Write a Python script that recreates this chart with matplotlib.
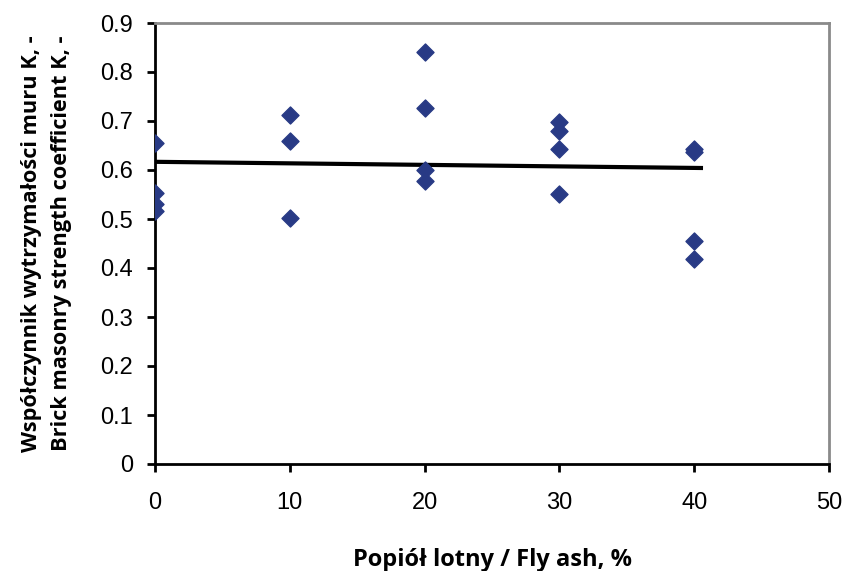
import matplotlib
matplotlib.use('Agg')
import matplotlib.pyplot as plt
import numpy as np

# Dane
popiol = [0, 0, 0, 0, 10, 10, 10, 20, 20, 20, 20, 30, 30, 30, 30, 40, 40, 40, 40]
wsp_k = [0.656, 0.553, 0.530, 0.517,
         0.712, 0.660, 0.502,
         0.841, 0.726, 0.599, 0.578,
         0.697, 0.679, 0.642, 0.551,
         0.642, 0.636, 0.456, 0.419]

fig = plt.figure(figsize=(8.46, 5.71), dpi=100)
ax = fig.add_axes([155 / 846, 1 - 464 / 571, (829 - 155) / 846, (464 - 23) / 571])

ax.scatter(popiol, wsp_k, marker='D', s=75, color='#283a85', zorder=3)

# Linia trendu
m, b = np.polyfit(popiol, wsp_k, 1)
xs = np.array([0, 40.5])
ax.plot(xs, m * xs + b, color='black', linewidth=3, zorder=2)

ax.set_xlim(0, 50)
ax.set_ylim(0, 0.9)
ax.set_xticks([0, 10, 20, 30, 40, 50])
ax.set_yticks(np.arange(0, 0.91, 0.1))
ax.set_yticklabels(['0'] + [f'{v:.1f}' for v in np.arange(0.1, 0.91, 0.1)])

for s in ['left', 'bottom']:
    ax.spines[s].set_color('black')
    ax.spines[s].set_linewidth(2)
for s in ['top', 'right']:
    ax.spines[s].set_color('#8a8a8a')
    ax.spines[s].set_linewidth(2)

ax.tick_params(direction='out', length=6, width=2, labelsize=17)
ax.tick_params(axis='y', pad=10)
ax.tick_params(axis='x', pad=14)
for lab in ax.get_xticklabels() + ax.get_yticklabels():
    lab.set_family('Liberation Sans')

ax.set_xlabel('Popiół lotny / Fly ash, %', fontsize=17, fontweight='bold',
              family='Open Sans', labelpad=25)
ax.set_ylabel('Współczynnik wytrzymałości muru K, -\nBrick masonry strength coefficient K, -',
              fontsize=15.7, fontweight='bold', family='Open Sans', labelpad=20,
              linespacing=1.6)

fig.savefig('out.png', dpi=100)
